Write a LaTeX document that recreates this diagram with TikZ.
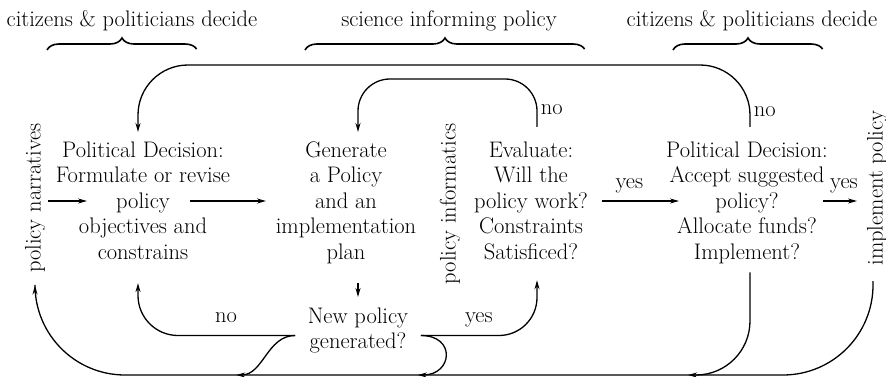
\documentclass[tikz,border=0pt]{standalone}
\usetikzlibrary{arrows.meta,decorations.pathreplacing}

\begin{document}
\begin{tikzpicture}[x=1pt,y=-1pt,>={Stealth[length=9pt,width=5pt]},shorten >=1pt,line width=1.3pt,
  font=\fontsize{22.5}{25.5}\selectfont,
  head/.style={anchor=base,inner sep=0pt},
  box/.style={align=center,anchor=north,inner xsep=3pt,inner ysep=8pt},
  side/.style={rotate=90,inner sep=2pt},
  lab/.style={anchor=base,yshift=13pt},
  brace/.style={decorate,decoration={brace,amplitude=12pt},line width=1.6pt}]

\useasboundingbox (0,0) rectangle (886,377);

% who is in charge of which column
\node[head] (who1) at (132,27) {citizens \& politicians decide};
\node[head] (sci)  at (449,27) {science informing policy};
\node[head] (who2) at (752,27) {citizens \& politicians decide};
\foreach \a/\b in {47/197,305/585,673/823}
	\draw[brace] (\a,50) -- (\b,50);

\node[side] (narr) at (35,198) {policy narratives};
\node[box]  (pd1)  at (143,133) {Political Decision:\\Formulate or revise\\policy\\objectives and\\constrains};
\node[box]  (gen)  at (346,133) {Generate\\a Policy\\and an\\implementation\\plan};
\node[side] (info) at (450,204) {policy informatics};
\node[box]  (eval) at (531,133) {Evaluate:\\Will the\\policy work?\\Constraints\\Satisficed?};
\node[box]  (pd2)  at (747,133) {Political Decision:\\Accept suggested\\policy?\\Allocate funds?\\Implement?};
\node[side] (impl) at (877,188) {implement policy};
\node[align=center,anchor=north,inner xsep=12pt,inner ysep=0pt] (newpol) at (358,307) {New policy\\generated?};

% rails and arrow ends
\coordinate (outer) at (0,65);
\coordinate (inner) at (0,79);
\coordinate (rail)  at (0,375);
\coordinate (nno)  at ([yshift=-5pt]newpol.west);
\coordinate (nyes) at ([yshift=-5pt]newpol.east);
\coordinate (narr out) at (48,201);
\coordinate (pd1 in)   at (88,201);
\coordinate (pd1 out)  at (190,201);
\coordinate (gen in)   at (267,201);
\coordinate (eval out) at (602,201);
\coordinate (pd2 in)   at (680,201);
\coordinate (pd2 out)  at (823,201);
\coordinate (impl in)  at (858,201);

\path[->] (narr out) edge (pd1 in)
	(pd1 out) edge (gen in)
	(eval out) edge node[pos=.35,lab]{yes} (pd2 in)
	(pd2 out) edge node[pos=.6,lab]{yes} (impl in);

\draw[->] (newpol |- gen.south) [shorten <=11pt,shorten >=10pt] -- (newpol.north);

% loops back over the top
\draw[->,rounded corners=50pt,shorten <=6pt] ([xshift=3pt]pd2.north) -- node[pos=.32,right]{no} ([xshift=3pt]pd2.north |- outer) -| ([xshift=-5pt]pd1.north);
\draw[->,rounded corners=32pt,shorten <=6pt] ([xshift=6pt]eval.north) -- node[pos=.44,right]{no} ([xshift=6pt]eval.north |- inner) -| (newpol |- gen.north);

% answers under the boxes
\draw[->,rounded corners=40pt,shorten >=15pt] (nno) -| node[pos=.22,lab]{no} ([xshift=-5pt]pd1.south);
\draw[->,rounded corners=38pt,shorten >=12pt] (nyes) -| node[pos=.25,lab]{yes} ([xshift=6pt]eval.south);
\draw[->] (nno) to[out=180,in=0] ([xshift=-60pt]nno |- rail);
\draw[->] (nyes) to[out=0,in=0,looseness=2.3] ([xshift=-4pt]nyes |- rail);
\draw[->,rounded corners=54pt] ([xshift=3pt]pd2.south) |- ([xshift=-60pt]pd2.south |- rail);
\draw[->,rounded corners=90pt,shorten <=13pt,shorten >=10pt] ([xshift=-4pt]impl.west) |- (narr.west |- rail) -- (narr.west);

\end{tikzpicture}
\end{document}
